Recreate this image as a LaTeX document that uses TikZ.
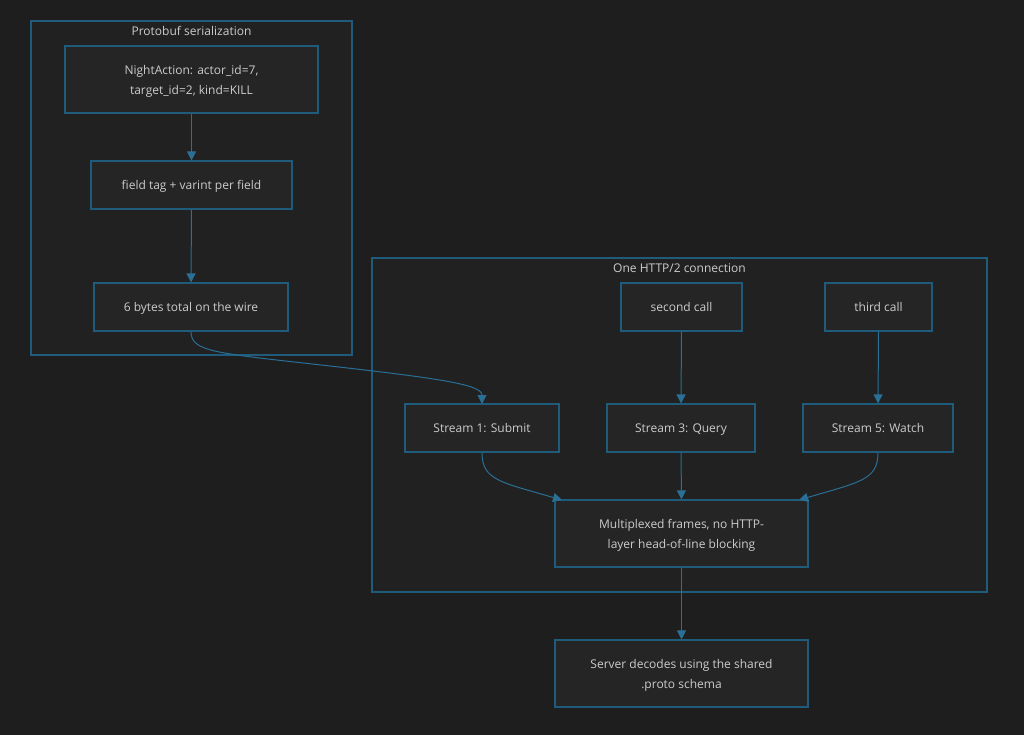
\documentclass[tikz,border=0pt]{standalone}
\usepackage{fontspec}
\setmainfont{Open Sans}
\usetikzlibrary{arrows.meta}
\definecolor{bg}{HTML}{1E1E1E}
\definecolor{clfill}{HTML}{212121}
\definecolor{nfill}{HTML}{252526}
\definecolor{nborder}{HTML}{1F5B7A}
\definecolor{arrowc}{HTML}{2A6F96}
\definecolor{txt}{HTML}{CCCCCC}
\tikzset{
  boxnode/.style={draw=nborder, fill=nfill, line width=1.1pt, inner sep=0pt,
    text=txt, align=center, font=\fontsize{12}{20}\selectfont, text depth=0pt},
  oneline/.style={text height=8.6pt, text depth=0pt},
  clusterbox/.style={draw=nborder, fill=clfill, line width=1.1pt},
  clustertitle/.style={text=txt, font=\fontsize{12}{14}\selectfont, inner sep=0pt, text height=8.6pt, text depth=0pt},
  flow/.style={draw=arrowc, line width=1pt, -{Triangle[length=9pt,width=9pt]}},
}
\begin{document}
\begin{tikzpicture}[x=1pt,y=-1pt]
\fill[bg] (0,0) rectangle (1024,735);
\useasboundingbox (0,0) rectangle (1024,735);
% clusters
\draw[clusterbox] (31,21) rectangle (352,355);
\node[clustertitle] (t1) at (191.5,31) {Protobuf serialization};
\draw[clusterbox] (372,258) rectangle (987,592);
\node[clustertitle] (t2) at (679.5,268) {One HTTP/2 connection};
% nodes
\node[boxnode, minimum width=253pt, minimum height=67pt] (na) at (191.5,79.5) {NightAction: actor\_id=7,\\target\_id=2, kind=KILL};
\node[boxnode, oneline, minimum width=201pt, minimum height=48pt] (ft) at (191.5,185) {field tag + varint per field};
\node[boxnode, oneline, minimum width=194pt, minimum height=48pt] (sb) at (191,307) {6 bytes total on the wire};
\node[boxnode, oneline, minimum width=121pt, minimum height=48pt] (sc) at (681.5,307) {second call};
\node[boxnode, oneline, minimum width=107pt, minimum height=48pt] (tc) at (878.5,307) {third call};
\node[boxnode, oneline, minimum width=154pt, minimum height=48pt] (s1) at (482,428) {Stream 1: Submit};
\node[boxnode, oneline, minimum width=148pt, minimum height=48pt] (s3) at (681,428) {Stream 3: Query};
\node[boxnode, oneline, minimum width=150pt, minimum height=48pt] (s5) at (878,428) {Stream 5: Watch};
\node[boxnode, minimum width=253pt, minimum height=67pt] (mx) at (681.5,533.5) {Multiplexed frames, no HTTP-\\layer head-of-line blocking};
\node[boxnode, minimum width=253pt, minimum height=67pt] (sv) at (681.5,673.5) {Server decodes using the shared\\.proto schema};
% connectors
\coordinate (s1in) at (482,404);
\coordinate (mxl) at (562,500);
\coordinate (mxr) at (799,500);
\draw[flow] (na.south) -- (ft.north);
\draw[flow] (ft.south) -- (sb.north);
\draw[flow] (sb.south) .. controls (191,352) and (215,353) .. (330,366) .. controls (445,379) and (482,385) .. (s1in);
\draw[flow] (sc.south) -- (s3.north);
\draw[flow] (tc.south) -- (s5.north);
\draw[flow] (s1.south) .. controls (482,480) and (500,482) .. (mxl);
\draw[flow] (s3.south) -- (mx.north);
\draw[flow] (s5.south) .. controls (878,480) and (860,482) .. (mxr);
\draw[flow] (mx.south) -- (sv.north);
\end{tikzpicture}
\end{document}
